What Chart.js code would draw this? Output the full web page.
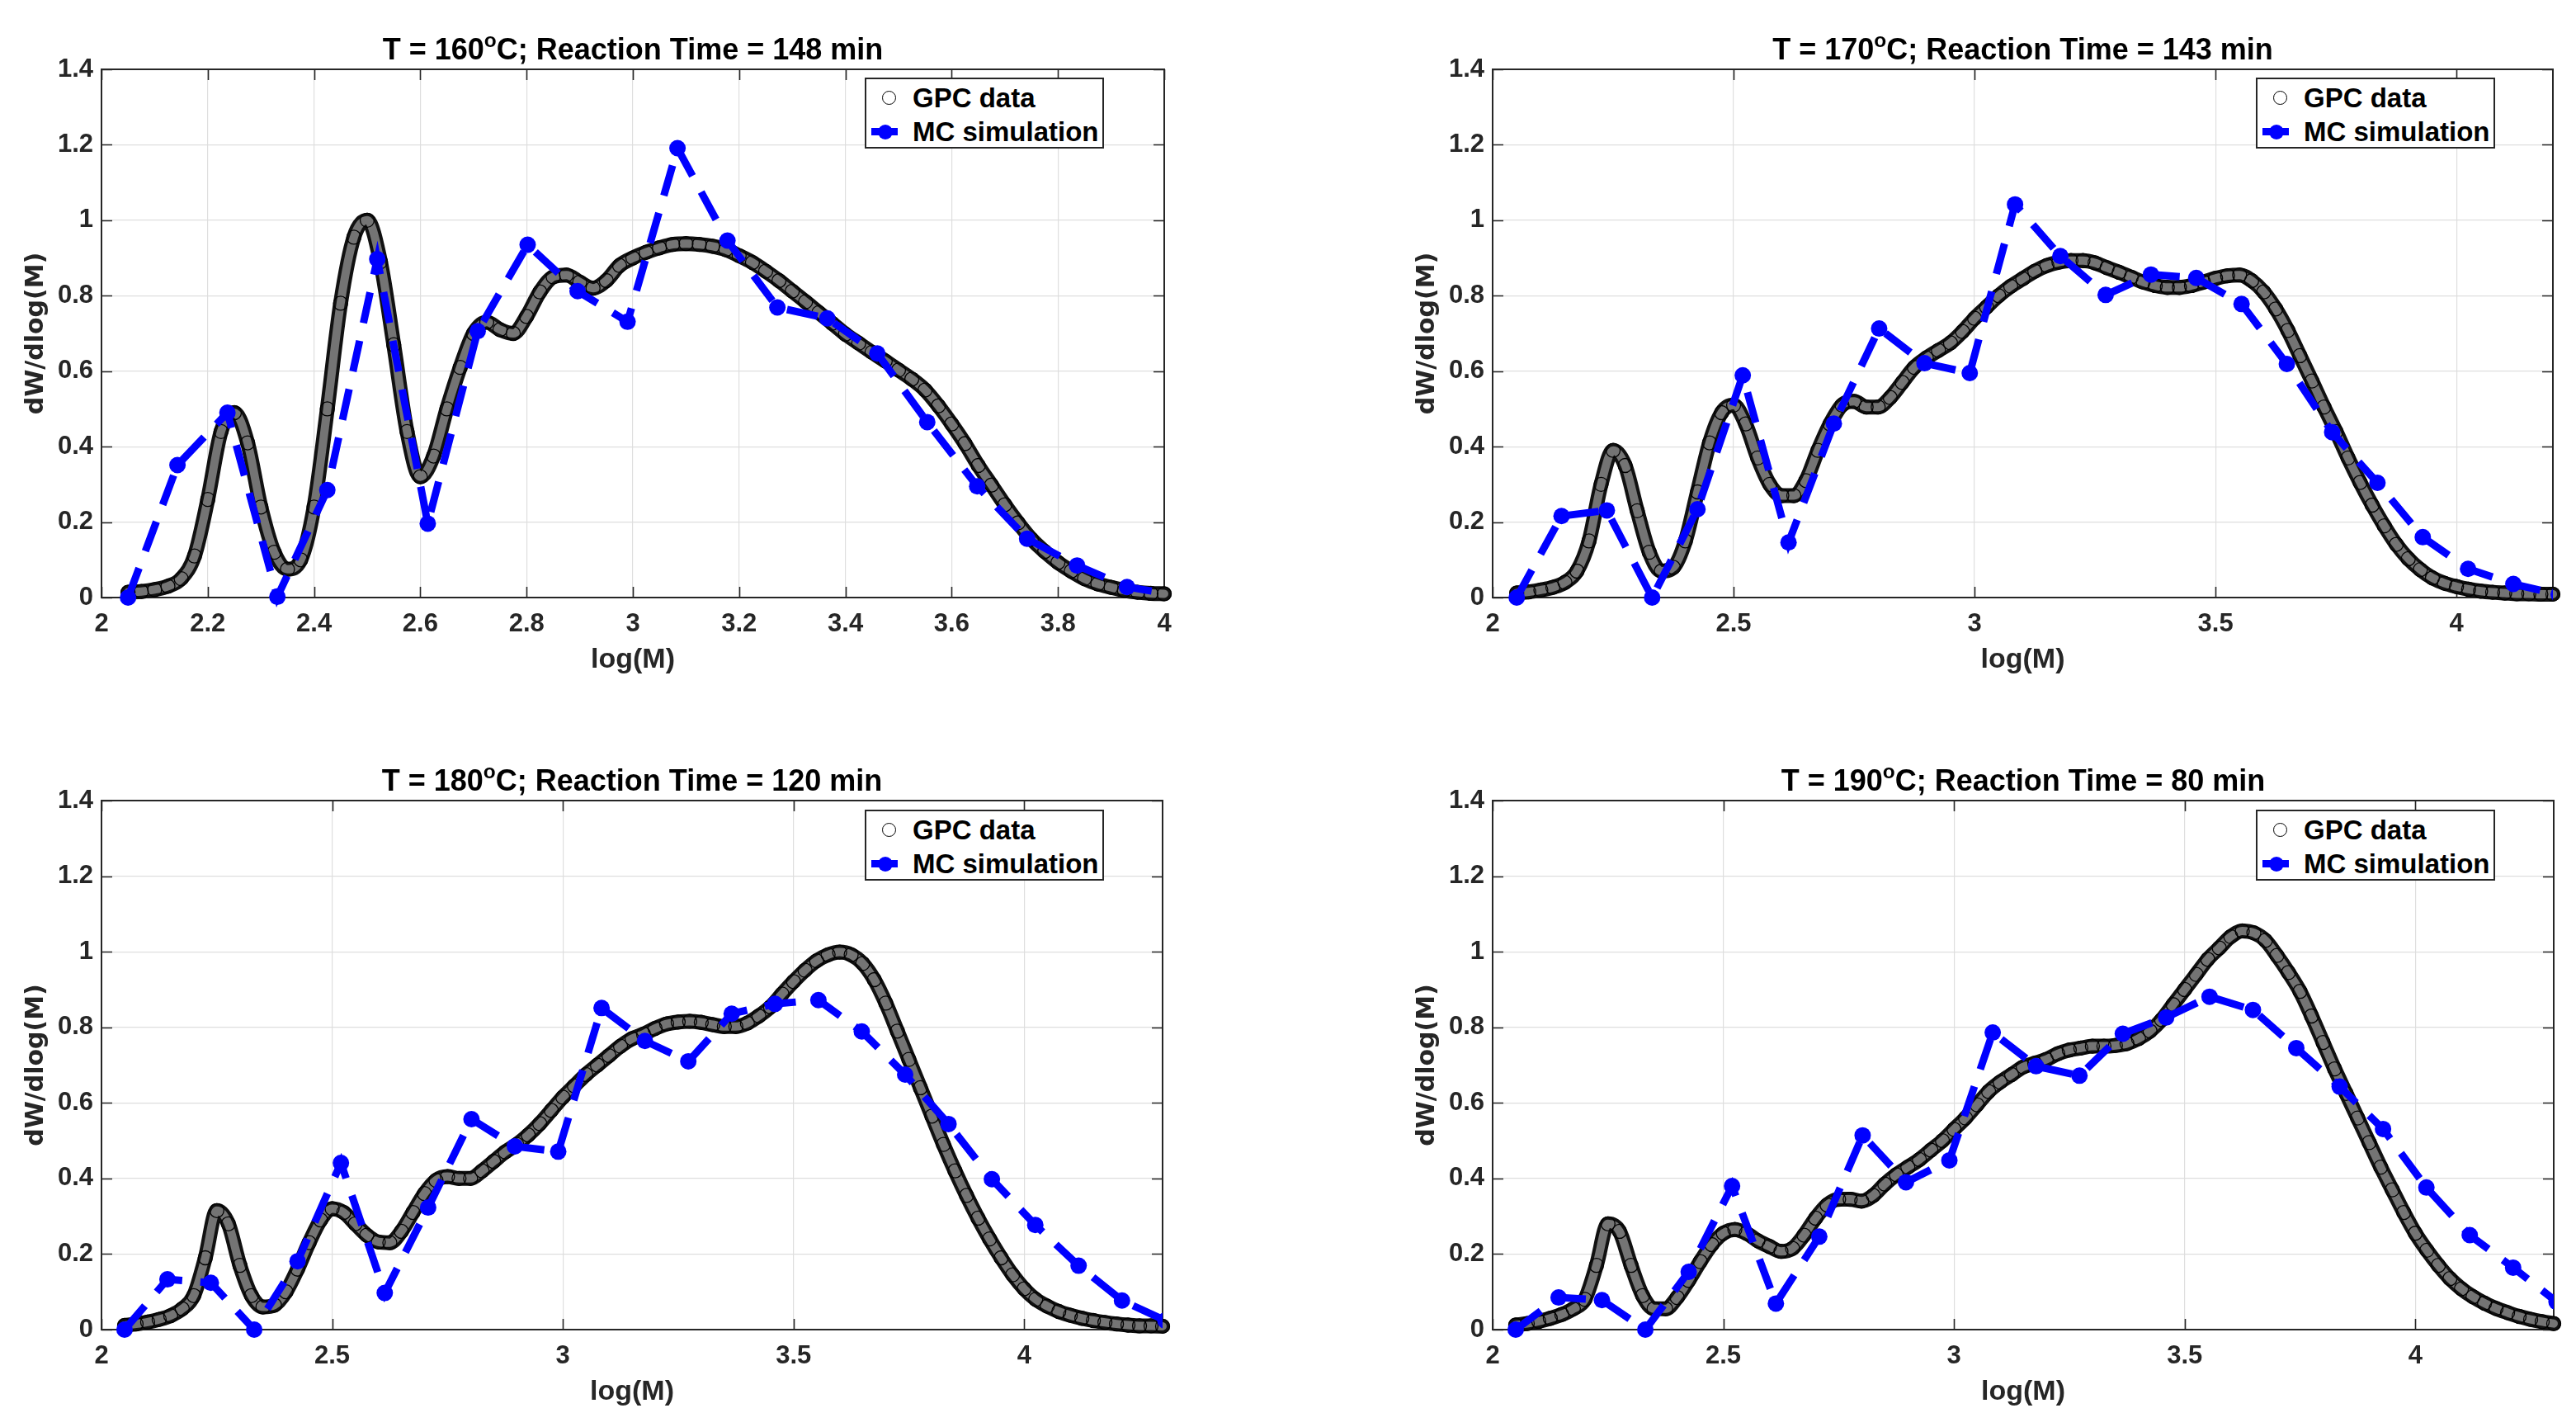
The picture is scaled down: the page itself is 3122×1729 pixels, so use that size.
<!DOCTYPE html>
<html>
<head>
<meta charset="utf-8">
<script src="https://cdn.jsdelivr.net/npm/chart.js@4.4.1/dist/chart.umd.min.js"></script>
<style>
  html, body { margin: 0; padding: 0; background: #fff; }
  body { width: 3122px; height: 1729px; position: relative; overflow: hidden;
         font-family: "Liberation Sans", Arial, Helvetica, sans-serif; color: #000; }
  canvas { position: absolute; }
  .title { position: absolute; font-weight: bold; font-size: 36px; line-height: 1;
           white-space: nowrap; transform: translateX(-50%); }
  .title .sup { font-size: 0.68em; position: relative; top: -0.62em; }
  .legend { position: absolute; box-sizing: border-box; border: 2px solid #262626; background: #fff; }
  .legend .row { position: absolute; left: 56px; font-weight: bold; font-size: 33px; line-height: 1; white-space: nowrap; }
  .legend .circ { position: absolute; box-sizing: border-box; width: 17px; height: 17px; border: 1.2px solid #000; border-radius: 50%; }
  .legend .ln { position: absolute; height: 9px; width: 32px; background: #0000ff; }
  .legend .dot { position: absolute; width: 18px; height: 18px; border-radius: 50%; background: #0000ff; }
</style>
</head>
<body>
<script>
// ---- data ----
const temps = ['160', '170', '180', '190'];
const times = ['148', '143', '120', '80'];
const seriesNames = ['GPC data', 'MC simulation'];
const xAxisLabel = 'log(M)';
const yAxisLabel = 'dW/dlog(M)';

const yTicks = [0, 0.2, 0.4, 0.6, 0.8, 1, 1.2, 1.4];
const xTicksFine = [2, 2.2, 2.4, 2.6, 2.8, 3, 3.2, 3.4, 3.6, 3.8, 4];
const xTicksHalf = [2, 2.5, 3, 3.5, 4];
const xMaxes = [4, 4.2, 4.3, 4.3];

// GPC sampling positions (log M)
const gpcX = [2.05, 2.075, 2.1, 2.125, 2.15, 2.175, 2.2, 2.225, 2.25, 2.275,
  2.3, 2.325, 2.35, 2.375, 2.4, 2.425, 2.45, 2.475, 2.5, 2.525,
  2.55, 2.575, 2.6, 2.625, 2.65, 2.675, 2.7, 2.725, 2.75, 2.775,
  2.8, 2.825, 2.85, 2.875, 2.9, 2.925, 2.95, 2.975, 3, 3.025,
  3.05, 3.075, 3.1, 3.125, 3.15, 3.175, 3.2, 3.225, 3.25, 3.275,
  3.3, 3.325, 3.35, 3.375, 3.4, 3.425, 3.45, 3.475, 3.5, 3.525,
  3.55, 3.575, 3.6, 3.625, 3.65, 3.675, 3.7, 3.725, 3.75, 3.775,
  3.8, 3.825, 3.85, 3.875, 3.9, 3.925, 3.95, 3.975, 4, 4.025,
  4.05, 4.075, 4.1, 4.125, 4.15, 4.175, 4.2, 4.225, 4.25, 4.275, 4.3];

const gpc160 = [0.014, 0.016, 0.021, 0.03, 0.05, 0.11, 0.26, 0.44, 0.49, 0.41,
  0.24, 0.12, 0.075, 0.10, 0.24, 0.50, 0.78, 0.955, 1.0, 0.89,
  0.67, 0.44, 0.32, 0.375, 0.50, 0.61, 0.70, 0.73, 0.71, 0.70,
  0.745, 0.81, 0.85, 0.855, 0.836, 0.82, 0.84, 0.88, 0.90, 0.915,
  0.927, 0.936, 0.938, 0.936, 0.931, 0.922, 0.906, 0.888, 0.865, 0.84,
  0.812, 0.784, 0.755, 0.727, 0.698, 0.674, 0.65, 0.627, 0.603, 0.579,
  0.55, 0.508, 0.46, 0.408, 0.35, 0.298, 0.246, 0.198, 0.155, 0.122,
  0.093, 0.07, 0.05, 0.036, 0.027, 0.019, 0.014, 0.011, 0.01];

const gpc170 = [0.012, 0.015, 0.02, 0.027, 0.04, 0.07, 0.15, 0.30, 0.39, 0.35,
  0.23, 0.12, 0.07, 0.08, 0.15, 0.28, 0.41, 0.49, 0.51, 0.46,
  0.37, 0.30, 0.27, 0.27, 0.31, 0.39, 0.46, 0.51, 0.52, 0.505,
  0.505, 0.53, 0.57, 0.61, 0.635, 0.655, 0.675, 0.705, 0.74, 0.77,
  0.80, 0.825, 0.845, 0.865, 0.88, 0.889, 0.893, 0.893, 0.887, 0.874,
  0.862, 0.849, 0.836, 0.827, 0.822, 0.822, 0.827, 0.836, 0.846, 0.853,
  0.855, 0.84, 0.81, 0.765, 0.708, 0.641, 0.574, 0.505, 0.44, 0.37,
  0.305, 0.245, 0.19, 0.141, 0.103, 0.074, 0.052, 0.038, 0.029, 0.022,
  0.017, 0.014, 0.012, 0.01, 0.01, 0.009, 0.009];

const gpc180 = [0.011, 0.015, 0.02, 0.027, 0.037, 0.055, 0.09, 0.19, 0.315, 0.28,
  0.17, 0.09, 0.06, 0.065, 0.10, 0.16, 0.23, 0.29, 0.32, 0.31,
  0.28, 0.25, 0.232, 0.23, 0.26, 0.31, 0.36, 0.395, 0.405, 0.40,
  0.40, 0.42, 0.445, 0.47, 0.49, 0.515, 0.545, 0.58, 0.615, 0.645,
  0.675, 0.70, 0.725, 0.75, 0.77, 0.782, 0.797, 0.809, 0.814, 0.816,
  0.813, 0.807, 0.802, 0.802, 0.811, 0.83, 0.854, 0.888, 0.921, 0.951,
  0.976, 0.992, 0.999, 0.992, 0.969, 0.926, 0.864, 0.79, 0.715, 0.64,
  0.565, 0.49, 0.42, 0.355, 0.295, 0.24, 0.19, 0.145, 0.108, 0.08,
  0.062, 0.048, 0.038, 0.03, 0.024, 0.019, 0.015, 0.012, 0.01, 0.01, 0.009];

const gpc190 = [0.012, 0.016, 0.022, 0.03, 0.04, 0.055, 0.08, 0.17, 0.28, 0.26,
  0.17, 0.09, 0.055, 0.055, 0.085, 0.13, 0.18, 0.225, 0.255, 0.265,
  0.255, 0.235, 0.22, 0.207, 0.215, 0.25, 0.295, 0.33, 0.345, 0.345,
  0.34, 0.355, 0.385, 0.41, 0.43, 0.45, 0.475, 0.50, 0.53, 0.56,
  0.595, 0.63, 0.655, 0.675, 0.695, 0.705, 0.715, 0.73, 0.74, 0.745,
  0.75, 0.75, 0.752, 0.757, 0.77, 0.79, 0.82, 0.86, 0.90, 0.94,
  0.98, 1.01, 1.04, 1.055, 1.05, 1.03, 0.99, 0.945, 0.895, 0.83,
  0.76, 0.69, 0.625, 0.56, 0.495, 0.43, 0.37, 0.31, 0.255, 0.21,
  0.17, 0.135, 0.108, 0.087, 0.07, 0.056, 0.045, 0.035, 0.027, 0.021, 0.016];

// MC simulation positions and values
const mcX = [2.05, 2.143, 2.237, 2.331, 2.425, 2.519, 2.614, 2.708, 2.802, 2.896,
  2.99, 3.084, 3.178, 3.272, 3.366, 3.46, 3.554, 3.648, 3.742, 3.836,
  3.93, 4.024, 4.118, 4.212, 4.306];
const mc160 = [0, 0.351, 0.49, 0.002, 0.285, 0.897, 0.196, 0.706, 0.935, 0.812,
  0.731, 1.191, 0.946, 0.769, 0.74, 0.647, 0.465, 0.295, 0.156, 0.085,
  0.028, 0.006];
const mc170 = [0, 0.216, 0.231, 0, 0.234, 0.589, 0.146, 0.461, 0.713, 0.621,
  0.595, 1.042, 0.905, 0.802, 0.856, 0.847, 0.778, 0.619, 0.438, 0.304,
  0.16, 0.076, 0.036, 0.008];
const mc180 = [0, 0.133, 0.124, 0, 0.181, 0.441, 0.097, 0.323, 0.557, 0.485,
  0.471, 0.851, 0.764, 0.71, 0.836, 0.862, 0.872, 0.789, 0.675, 0.544,
  0.398, 0.277, 0.169, 0.077, 0.024];
const mc190 = [0, 0.085, 0.078, 0, 0.153, 0.38, 0.069, 0.246, 0.514, 0.39,
  0.448, 0.786, 0.697, 0.672, 0.783, 0.826, 0.881, 0.846, 0.745, 0.643,
  0.531, 0.376, 0.25, 0.164, 0.074];

// ---- layout ----
const panels = [
  { gpc: gpc160, mc: mc160, xTicks: xTicksFine, area: [123, 84, 1411, 724], legend: [1048, 94] },
  { gpc: gpc170, mc: mc170, xTicks: xTicksHalf, area: [1809, 84, 3094, 724], legend: [2734, 94] },
  { gpc: gpc180, mc: mc180, xTicks: xTicksHalf, area: [123, 970, 1409, 1611], legend: [1048, 981] },
  { gpc: gpc190, mc: mc190, xTicks: xTicksHalf, area: [1809, 970, 3095, 1611], legend: [2734, 981] }
];

const AXIS = '#262626';
const Y_BOX = 123, X_BOX = 116, PAD_TOP = 40, PAD_RIGHT = 30;

Chart.defaults.font.family = '"Liberation Sans", Arial, Helvetica, sans-serif';
Chart.defaults.color = AXIS;

const fmt = v => String(+(+v).toFixed(2));

// MATLAB style box with inward ticks on all four sides
const boxPlugin = {
  id: 'boxPlugin',
  beforeDatasetsDraw(chart) {
    const { ctx, chartArea: a, scales } = chart;
    const len = 13;
    ctx.save();
    ctx.strokeStyle = AXIS;
    ctx.lineWidth = 2;
    ctx.strokeRect(a.left, a.top, a.right - a.left, a.bottom - a.top);
    ctx.beginPath();
    scales.x.ticks.forEach(t => {
      const p = Math.round(scales.x.getPixelForValue(t.value)) + 0.5;
      ctx.moveTo(p, a.bottom); ctx.lineTo(p, a.bottom - len);
      ctx.moveTo(p, a.top); ctx.lineTo(p, a.top + len);
    });
    scales.y.ticks.forEach(t => {
      const p = Math.round(scales.y.getPixelForValue(t.value)) + 0.5;
      ctx.moveTo(a.left, p); ctx.lineTo(a.left + len, p);
      ctx.moveTo(a.right, p); ctx.lineTo(a.right - len, p);
    });
    ctx.lineWidth = 1.6;
    ctx.stroke();
    ctx.restore();
  }
};

function zip(xs, ys) { return ys.map((y, i) => ({ x: xs[i], y: y })); }

panels.forEach((p, i) => {
  const [L, T, R, B] = p.area;
  const cl = L - Y_BOX, ct = T - PAD_TOP;
  const cw = R - cl + PAD_RIGHT, ch = B - ct + X_BOX;

  const cv = document.createElement('canvas');
  cv.width = cw; cv.height = ch;
  cv.style.left = cl + 'px'; cv.style.top = ct + 'px';
  cv.style.width = cw + 'px'; cv.style.height = ch + 'px';
  document.body.appendChild(cv);

  const gpcPts = zip(gpcX, p.gpc);
  const mcPts = zip(mcX, p.mc);
  const wide = { left: 20, top: 0, right: 20, bottom: 20 };

  new Chart(cv.getContext('2d'), {
    type: 'line',
    data: {
      datasets: [
        { label: seriesNames[1], data: mcPts, order: 0, borderColor: '#0000ff', borderWidth: 9,
          borderDash: [38, 22], tension: 0, pointRadius: 10, pointBackgroundColor: '#0000ff',
          pointBorderWidth: 0, clip: { left: 0, top: 0, right: 0, bottom: 14 } },
        { label: seriesNames[0], data: gpcPts, order: 1, showLine: false, pointRadius: 8.5,
          pointBorderColor: '#000', pointBorderWidth: 1.3, pointBackgroundColor: 'rgba(0,0,0,0)', clip: wide },
        { label: 'band-in', data: gpcPts, order: 2, borderColor: '#747474', borderWidth: 10,
          cubicInterpolationMode: 'monotone', pointRadius: 0, borderCapStyle: 'round', borderJoinStyle: 'round', clip: wide },
        { label: 'band-out', data: gpcPts, order: 3, borderColor: '#111111', borderWidth: 18,
          cubicInterpolationMode: 'monotone', pointRadius: 0, borderCapStyle: 'round', borderJoinStyle: 'round', clip: wide }
      ]
    },
    options: {
      responsive: false,
      animation: false,
      devicePixelRatio: 1,
      layout: { padding: { top: PAD_TOP, right: PAD_RIGHT, left: 0, bottom: 0 } },
      plugins: { legend: { display: false }, tooltip: { enabled: false }, title: { display: false } },
      scales: {
        x: {
          type: 'linear', min: 2, max: xMaxes[i],
          afterBuildTicks: s => { s.ticks = p.xTicks.map(v => ({ value: v })); },
          afterFit: s => { s.height = X_BOX; },
          grid: { color: '#dedede', lineWidth: 1.2, drawTicks: false },
          border: { display: false },
          ticks: { callback: fmt, padding: 14, maxRotation: 0, autoSkip: false,
                   font: { size: 31, weight: 'bold' }, color: AXIS },
          title: { display: true, text: xAxisLabel, color: AXIS, padding: { top: 0, bottom: 20 },
                   font: { size: 34, weight: 'bold' } }
        },
        y: {
          type: 'linear', min: 0, max: 1.4,
          afterBuildTicks: s => { s.ticks = yTicks.map(v => ({ value: v })); },
          afterFit: s => { s.width = Y_BOX; },
          grid: { color: '#dedede', lineWidth: 1.2, drawTicks: false },
          border: { display: false },
          ticks: { callback: fmt, padding: 10, autoSkip: false,
                   font: { size: 31, weight: 'bold' }, color: AXIS },
          title: { display: true, text: yAxisLabel, color: AXIS, padding: { top: 26, bottom: 0 },
                   font: { family: '"DejaVu Sans", Verdana, sans-serif', size: 30, weight: 'bold' } }
        }
      }
    },
    plugins: [boxPlugin]
  });

  // title with superscript degree mark
  const t = document.createElement('div');
  t.className = 'title';
  t.style.left = ((L + R) / 2) + 'px';
  t.style.top = (T - 42) + 'px';
  t.innerHTML = 'T = ' + temps[i] + '<span class="sup">o</span>C; Reaction Time = ' + times[i] + ' min';
  document.body.appendChild(t);

  // legend box
  const lg = document.createElement('div');
  lg.className = 'legend';
  lg.style.left = p.legend[0] + 'px'; lg.style.top = p.legend[1] + 'px';
  lg.style.width = '290px'; lg.style.height = '86px';
  lg.innerHTML =
    '<span class="circ" style="left:19px;top:14px"></span>' +
    '<div class="row" style="top:6px">' + seriesNames[0] + '</div>' +
    '<span class="ln" style="left:6px;top:59px"></span>' +
    '<span class="dot" style="left:14px;top:55px"></span>' +
    '<div class="row" style="top:47px">' + seriesNames[1] + '</div>';
  document.body.appendChild(lg);
});
</script>
</body>
</html>
